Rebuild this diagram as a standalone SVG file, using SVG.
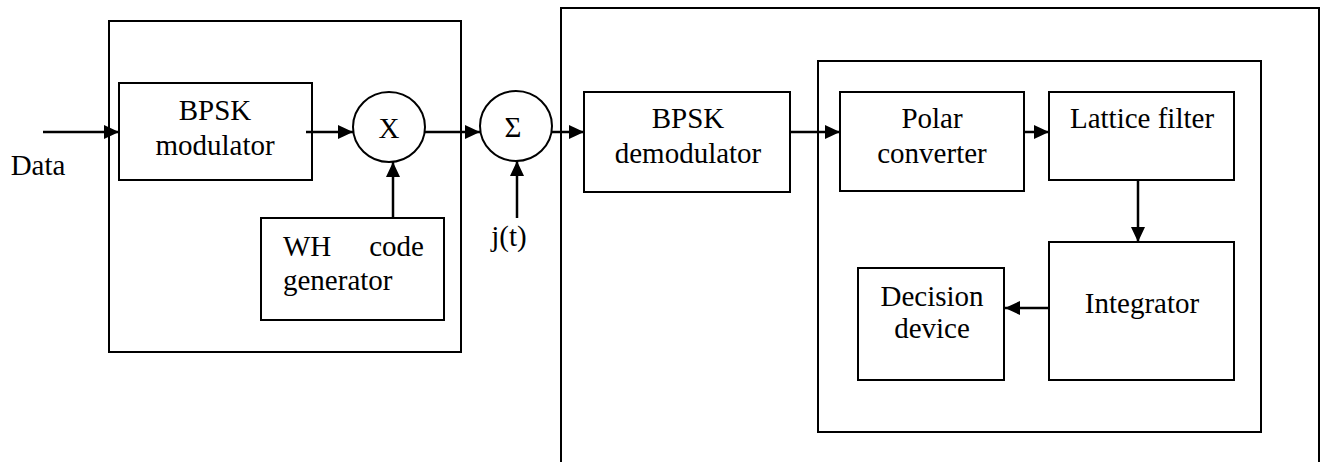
<svg xmlns="http://www.w3.org/2000/svg" width="1344" height="462" viewBox="0 0 1344 462">
<style>
.box{fill:none;stroke:#000;stroke-width:2}
.frame{fill:none;stroke:#000;stroke-width:2}
.t{font-family:"Liberation Serif","Times New Roman",serif;font-size:29px;fill:#000;text-anchor:middle}
.w{stroke:#000;stroke-width:2.5;fill:none}
</style>
<defs>
<marker id="ah" markerWidth="15" markerHeight="14" refX="15" refY="7" orient="auto" markerUnits="userSpaceOnUse">
<path d="M0,0 L15,7 L0,14 Z" fill="#000"/>
</marker>
</defs>
<rect width="1344" height="462" fill="#fff"/>

<g id="transmitter">
<rect class="frame" x="109" y="21" width="352" height="331"/>
</g>
<g id="receiver">
<path class="frame" d="M561,470 V8 H1319 V470"/>
</g>
<g id="detector">
<rect class="frame" x="818" y="61" width="443" height="371"/>
</g>

<g id="bpsk-mod">
<rect class="box" x="119" y="83" width="193" height="97"/>
<text class="t" x="215" y="120">BPSK</text>
<text class="t" x="215" y="155">modulator</text>
</g>
<g id="multiplier">
<ellipse class="box" cx="389" cy="127" rx="36" ry="35"/>
<text class="t" x="389" y="138">X</text>
</g>
<g id="wh-gen">
<rect class="box" x="261" y="218" width="183" height="102"/>
<text class="t" x="283" y="256" style="text-anchor:start">WH</text>
<text class="t" x="424" y="256" style="text-anchor:end">code</text>
<text class="t" x="283" y="290" style="text-anchor:start">generator</text>
</g>
<g id="summer">
<ellipse class="box" cx="516" cy="126" rx="36" ry="35"/>
<text class="t" x="513" y="137">Σ</text>
</g>
<g id="data-label">
<text class="t" x="38" y="175">Data</text>
</g>
<g id="jt-label">
<text class="t" x="509" y="246">j(t)</text>
</g>
<g id="bpsk-demod">
<rect class="box" x="584" y="92" width="206" height="100"/>
<text class="t" x="688" y="128">BPSK</text>
<text class="t" x="688" y="163">demodulator</text>
</g>
<g id="polar">
<rect class="box" x="840" y="92" width="184" height="99"/>
<text class="t" x="932" y="128">Polar</text>
<text class="t" x="932" y="163">converter</text>
</g>
<g id="lattice">
<rect class="box" x="1049" y="92" width="185" height="88"/>
<text class="t" x="1142" y="128">Lattice filter</text>
</g>
<g id="integrator">
<rect class="box" x="1049" y="242" width="185" height="138"/>
<text class="t" x="1142" y="313">Integrator</text>
</g>
<g id="decision">
<rect class="box" x="858" y="268" width="146" height="112"/>
<text class="t" x="932" y="306">Decision</text>
<text class="t" x="932" y="338">device</text>
</g>

<g id="connectors">
<line class="w" x1="43" y1="132" x2="119" y2="132" marker-end="url(#ah)"/>
<line class="w" x1="306" y1="132" x2="353" y2="132" marker-end="url(#ah)"/>
<line class="w" x1="393" y1="218" x2="393" y2="162" marker-end="url(#ah)"/>
<line class="w" x1="425" y1="132" x2="480" y2="132" marker-end="url(#ah)"/>
<line class="w" x1="517" y1="218" x2="517" y2="161" marker-end="url(#ah)"/>
<line class="w" x1="552" y1="132" x2="584" y2="132" marker-end="url(#ah)"/>
<line class="w" x1="790" y1="132" x2="840" y2="132" marker-end="url(#ah)"/>
<line class="w" x1="1024" y1="132" x2="1049" y2="132" marker-end="url(#ah)"/>
<line class="w" x1="1138" y1="180" x2="1138" y2="242" marker-end="url(#ah)"/>
<line class="w" x1="1049" y1="308" x2="1005" y2="308" marker-end="url(#ah)"/>
</g>
</svg>
